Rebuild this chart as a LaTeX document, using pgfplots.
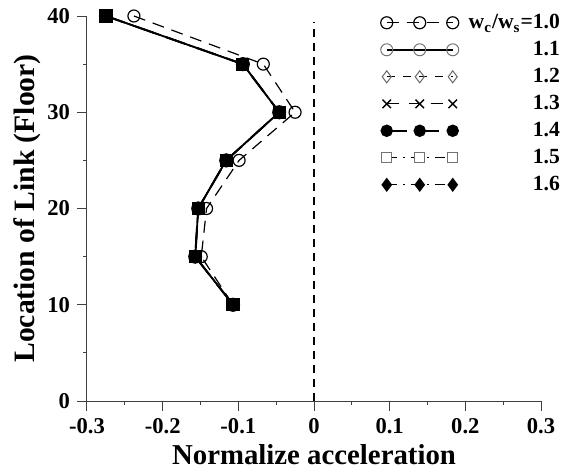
\documentclass[border=0pt]{standalone}
\usepackage{fontspec}
\setmainfont{Liberation Serif}
\usepackage{pgfplots}
\pgfplotsset{compat=1.18}

% Normalised acceleration of the link, by floor, for each mass ratio
\def\datA{(-0.238,40) (-0.067,35) (-0.025,30) (-0.099,25) (-0.142,20) (-0.149,15) (-0.107,10)}
\def\datB{(-0.275,40) (-0.094,35) (-0.046,30) (-0.116,25) (-0.153,20) (-0.157,15) (-0.107,10)}

\begin{document}
\begin{tikzpicture}
\begin{axis}[
  scale only axis, width=227pt, height=192.5pt,
  xmin=-0.3, xmax=0.3, ymin=0, ymax=40,
  axis x line=bottom, axis y line=left,
  axis line style={-, line width=0.5pt, black!75},
  xtick={-0.3,-0.2,-0.1,0,0.1,0.2,0.3},
  xticklabels={-0.3,-0.2,-0.1,0,0.1,0.2,0.3},
  minor xtick={-0.25,-0.15,-0.05,0.05,0.15,0.25},
  ytick={0,10,20,30,40},
  yticklabels={0,10,20,30,40},
  minor ytick={5,15,25,35},
  tick align=outside, major tick length=5pt, minor tick length=2pt,
  tick style={black!75, line width=0.5pt},
  ticklabel style={font=\bfseries\fontsize{11.3}{13}\selectfont},
  xlabel={Normalize acceleration},
  ylabel={Location of Link (Floor)},
  xlabel style={font=\bfseries\fontsize{14.4}{17}\selectfont, at={(axis description cs:0.5,-0.14)}, anchor=center},
  ylabel style={font=\bfseries\fontsize{14.8}{17}\selectfont, at={(axis description cs:-0.132,0.5)}, anchor=center},
  clip=false,
  legend style={at={(rel axis cs:1.06,1.025)}, anchor=north east, draw=none, fill=none,
    font=\bfseries\fontsize{10.8}{13}\selectfont,
    nodes={inner sep=1pt, text height=8pt, text depth=2pt},
    row sep=1.5pt, cells={anchor=east},
    /tikz/every odd column/.append style={column sep=4pt}},
  legend image code/.code={\draw[mark repeat=1,mark phase=1,#1] plot coordinates {(0pt,0pt) (16.5pt,0pt) (33pt,0pt)};},
]
% zero reference line
\addplot[forget plot, black, line width=0.6pt, dash pattern=on 4pt off 3pt] coordinates {(0,0) (0,39.4)};

\addplot[black, line width=0.6pt, dash pattern=on 6pt off 4pt, mark=o, mark size=3pt, mark options={solid, fill=white}] coordinates {\datA};
\addlegendentry{w$_\mathbf{c}$/w$_\mathbf{s}$=1.0}
\addplot[black, line width=0.9pt, mark=o, mark size=3pt, mark options={solid, line width=0.5pt, draw=black!55, fill=white}] coordinates {\datB};
\addlegendentry{1.1}
\addplot[black, line width=0.6pt, dash pattern=on 4pt off 4pt, mark=diamond, mark size=3pt, mark options={solid, line width=0.5pt, draw=black!60, fill=white}] coordinates {\datB};
\addlegendentry{1.2}
\addplot[black, line width=0.7pt, dash pattern=on 6pt off 5pt, mark=x, mark size=3pt, mark options={solid}] coordinates {\datB};
\addlegendentry{1.3}
\addplot[black, line width=1pt, dash pattern=on 10pt off 6pt, mark=*, mark size=3pt, mark options={solid},
  legend image post style={mark size=2.6pt}] coordinates {\datB};
\addlegendentry{1.4}
\addplot[black, line width=0.6pt, dash pattern=on 5pt off 3pt on 1pt off 3pt, mark=square*, mark size=3pt, mark options={solid, fill=black},
  legend image post style={mark size=2.6pt, mark options={solid, line width=0.5pt, draw=black!55, fill=white}}] coordinates {\datB};
\addlegendentry{1.5}
\addplot[black, line width=0.7pt, dash pattern=on 5pt off 3pt on 1pt off 3pt, mark=diamond*, mark size=3pt, mark options={solid}] coordinates {\datB};
\addlegendentry{1.6}
\end{axis}
\pgfresetboundingbox
\path (current axis.south west) ++(-43.5pt,-35.5pt) coordinate (bbA);
\path (current axis.north east) ++(10pt,8pt) coordinate (bbB);
\useasboundingbox (bbA) rectangle (bbB);
\end{tikzpicture}
\end{document}
